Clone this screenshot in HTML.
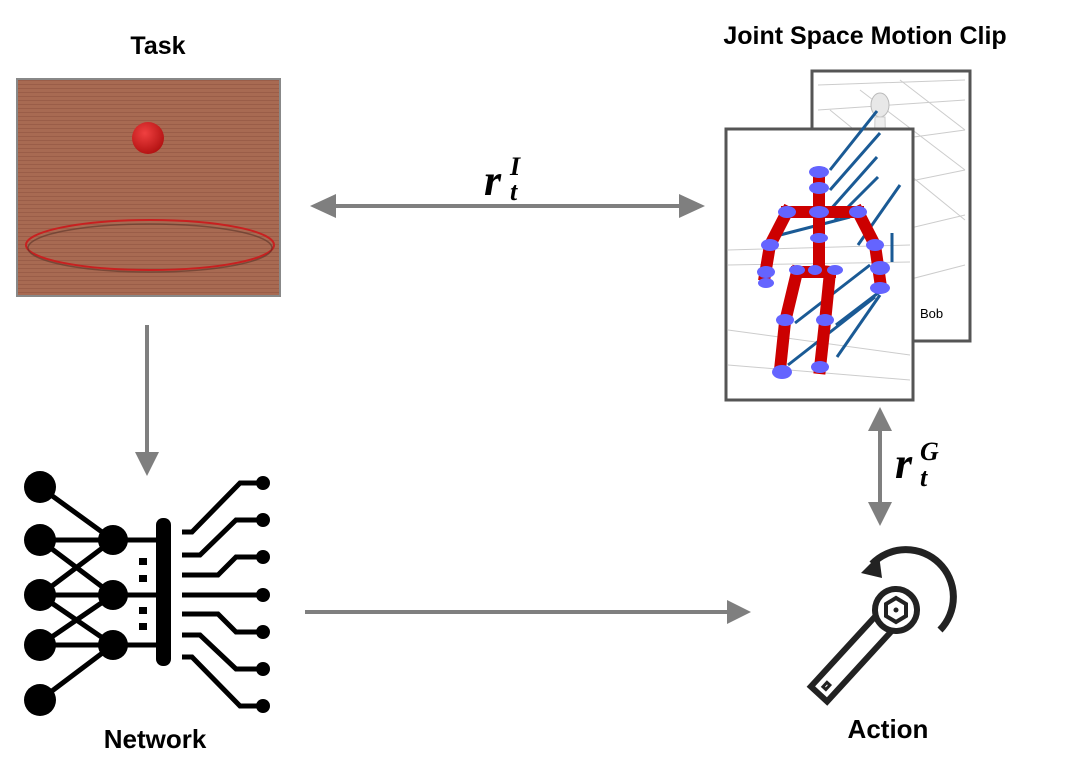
<!DOCTYPE html>
<html><head><style>body{margin:0;background:#fff}</style></head><body>
<svg width="1069" height="777" xmlns="http://www.w3.org/2000/svg">
<defs>
<pattern id="stripe" width="6" height="4" patternUnits="userSpaceOnUse"><rect width="6" height="4" fill="#a86a52"/><rect width="6" height="1" fill="#9a5d48"/></pattern>
<radialGradient id="ball" cx="0.4" cy="0.35" r="0.7"><stop offset="0" stop-color="#f04040"/><stop offset="1" stop-color="#b01010"/></radialGradient>
</defs>
<g font-family="Liberation Sans, sans-serif" font-weight="bold" fill="#000" text-anchor="middle">
<text x="158" y="54" font-size="25">Task</text>
<text x="865" y="44" font-size="25">Joint Space Motion Clip</text>
<text x="155" y="748" font-size="26">Network</text>
<text x="888" y="738" font-size="26">Action</text>
</g>
<!-- Task image -->
<rect x="17" y="79" width="263" height="217" fill="url(#stripe)" stroke="#888" stroke-width="2"/>
<circle cx="148" cy="138" r="16" fill="url(#ball)"/>
<ellipse cx="150" cy="245" rx="124" ry="25" fill="none" stroke="#c82020" stroke-width="2"/>
<ellipse cx="150" cy="248" rx="122" ry="24" fill="none" stroke="#5a3328" stroke-width="1.5" opacity="0.6"/>
<!-- arrows -->
<g stroke="#7f7f7f" stroke-width="4" fill="#7f7f7f">
<line x1="330" y1="206" x2="685" y2="206"/>
<path d="M310,206 L336,194 L336,218 z" stroke="none"/>
<path d="M705,206 L679,194 L679,218 z" stroke="none"/>
<line x1="147" y1="325" x2="147" y2="455"/>
<path d="M147,476 L135,452 L159,452 z" stroke="none"/>
<line x1="305" y1="612" x2="730" y2="612"/>
<path d="M751,612 L727,600 L727,624 z" stroke="none"/>
<line x1="880" y1="428" x2="880" y2="505"/>
<path d="M880,407 L868,431 L892,431 z" stroke="none"/>
<path d="M880,526 L868,502 L892,502 z" stroke="none"/>
</g>
<g font-family="Liberation Serif, serif" font-weight="bold" font-style="italic">
<text x="484" y="195" font-size="44">r</text>
<text x="510" y="175" font-size="26">I</text>
<text x="510" y="200" font-size="26">t</text>
<text x="895" y="478" font-size="44">r</text>
<text x="920" y="460" font-size="26">G</text>
<text x="920" y="486" font-size="26">t</text>
</g>
<!-- Motion clip -->
<rect x="812" y="71" width="158" height="270" fill="#fff" stroke="#555" stroke-width="3"/>
<g stroke="#ccc" stroke-width="1" fill="none">
<path d="M818,85 L965,80 M818,110 L965,100 M818,150 L965,130 M818,200 L965,170 M818,250 L965,215 M830,300 L965,265"/>
<path d="M900,80 L965,130 M860,90 L965,170 M830,110 L965,220"/>
</g>
<ellipse cx="880" cy="105" rx="9" ry="12" fill="#e8e8e8" stroke="#bbb"/>
<path d="M875,117 L885,117 L888,240 L872,240 z" fill="#eee" stroke="#ccc"/>
<text x="920" y="318" font-family="Liberation Sans, sans-serif" font-size="13">Bob</text>
<rect x="726" y="129" width="187" height="271" fill="#fff" stroke="#555" stroke-width="3"/>
<g stroke="#ccc" stroke-width="1"><path d="M728,250 L910,245 M728,265 L910,262 M728,330 L910,355 M728,365 L910,380"/></g>
<g stroke="#1a5a95" stroke-width="3">
<line x1="830" y1="170" x2="877" y2="111"/><line x1="830" y1="190" x2="880" y2="133"/><line x1="830" y1="210" x2="877" y2="157"/><line x1="835" y1="220" x2="878" y2="177"/>
<line x1="858" y1="245" x2="900" y2="185"/><line x1="780" y1="235" x2="850" y2="217"/><line x1="795" y1="323" x2="870" y2="265"/>
<line x1="836" y1="325" x2="882" y2="290"/><line x1="788" y1="365" x2="875" y2="297"/><line x1="837" y1="357" x2="880" y2="295"/><line x1="892" y1="233" x2="892" y2="262"/>
</g>
<g stroke="#cc0000" stroke-width="12" fill="none" stroke-linecap="square">
<path d="M819,173 L819,270"/>
<path d="M787,212 L858,212"/>
<path d="M787,212 L770,245 L765,275"/>
<path d="M858,212 L875,245 L880,280"/>
<path d="M797,272 L785,322 L780,370"/>
<path d="M830,272 L825,322 L820,368"/>
<path d="M797,272 L830,272"/>
</g>
<g fill="#6464ff">
<ellipse cx="819" cy="172" rx="10" ry="6"/><ellipse cx="819" cy="188" rx="10" ry="6"/><ellipse cx="819" cy="212" rx="10" ry="6"/><ellipse cx="787" cy="212" rx="9" ry="6"/><ellipse cx="858" cy="212" rx="9" ry="6"/>
<ellipse cx="770" cy="245" rx="9" ry="6"/><ellipse cx="766" cy="272" rx="9" ry="6"/><ellipse cx="766" cy="283" rx="8" ry="5"/><ellipse cx="875" cy="245" rx="9" ry="6"/><ellipse cx="880" cy="268" rx="10" ry="7"/><ellipse cx="880" cy="288" rx="10" ry="6"/>
<ellipse cx="819" cy="238" rx="9" ry="5"/><ellipse cx="797" cy="270" rx="8" ry="5"/><ellipse cx="815" cy="270" rx="7" ry="5"/><ellipse cx="835" cy="270" rx="8" ry="5"/>
<ellipse cx="785" cy="320" rx="9" ry="6"/><ellipse cx="825" cy="320" rx="9" ry="6"/><ellipse cx="782" cy="372" rx="10" ry="7"/><ellipse cx="820" cy="367" rx="9" ry="6"/>
</g>
<!-- Network icon -->
<g stroke="#000" stroke-width="5" fill="none">
<path d="M40,487 L113,540 M40,540 L113,595 M40,595 L113,540 M40,595 L113,645 M40,645 L113,595 M40,700 L113,645 M40,540 L160,540 M40,595 L160,595 M40,645 L160,645"/>
<path d="M182,532 L192,532 L240,483 L263,483"/>
<path d="M182,555 L200,555 L236,520 L263,520"/>
<path d="M182,575 L218,575 L236,557 L263,557"/>
<path d="M182,595 L263,595"/>
<path d="M182,614 L218,614 L236,632 L263,632"/>
<path d="M182,635 L200,635 L236,669 L263,669"/>
<path d="M182,657 L192,657 L240,706 L263,706"/>
</g>
<g fill="#000">
<circle cx="40" cy="487" r="16"/><circle cx="40" cy="540" r="16"/><circle cx="40" cy="595" r="16"/><circle cx="40" cy="645" r="16"/><circle cx="40" cy="700" r="16"/>
<circle cx="113" cy="540" r="15"/><circle cx="113" cy="595" r="15"/><circle cx="113" cy="645" r="15"/>
<rect x="156" y="518" width="15" height="148" rx="7"/>
<rect x="139" y="558" width="8" height="7"/><rect x="139" y="575" width="8" height="7"/><rect x="139" y="607" width="8" height="7"/><rect x="139" y="623" width="8" height="7"/>
<circle cx="263" cy="483" r="7"/><circle cx="263" cy="520" r="7"/><circle cx="263" cy="557" r="7"/><circle cx="263" cy="595" r="7"/><circle cx="263" cy="632" r="7"/><circle cx="263" cy="669" r="7"/><circle cx="263" cy="706" r="7"/>
</g>
<!-- Action icon -->
<g transform="translate(896,610) rotate(132.5)" stroke="#222" fill="#fff" stroke-width="6">
<rect x="18" y="-11" width="96" height="22"/>
<rect x="100" y="-2" width="6" height="4" stroke-width="3"/>
<circle cx="0" cy="0" r="21"/>
</g>
<path d="M872,564 A42,42 0 0 1 940,630" stroke="#222" stroke-width="7" fill="none"/>
<path d="M861,573 L879,555 L882,578 z" fill="#222"/>
<polygon points="896,598 906,604 906,616 896,622 886,616 886,604" fill="none" stroke="#222" stroke-width="4"/>
<circle cx="896" cy="610" r="2.5" fill="#222"/>
</svg>
</body></html>
